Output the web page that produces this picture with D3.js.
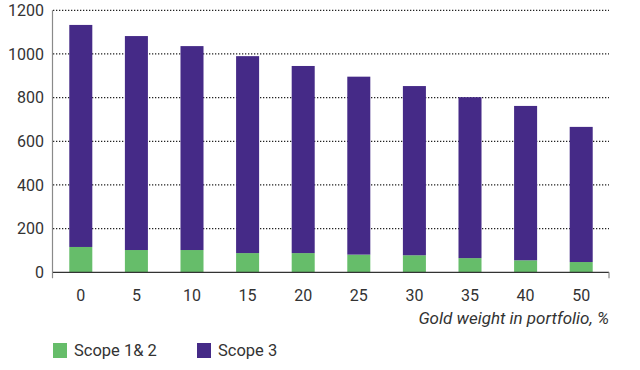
<!DOCTYPE html>
<html>
<head>
<meta charset="utf-8">
<style>
  body { margin: 0; background: #fff; }
  text { font-family: Roboto, "Liberation Sans", sans-serif; fill: #333; }
  .tick-label { font-size: 16px; }
  .axis-title { font-size: 17px; font-style: italic; }
  .legend-label { font-size: 16.5px; }
</style>
</head>
<body>
<script src="https://cdn.jsdelivr.net/npm/d3@7/dist/d3.min.js"></script>
<script>
// data
const weights = ["0", "5", "10", "15", "20", "25", "30", "35", "40", "50"];
const scope12 = [116, 102, 102, 88, 88, 81, 78, 65, 55, 47];
const scope3 = [1017, 980, 934, 902, 857, 815, 775, 737, 707, 619];
const yTicks = [0, 200, 400, 600, 800, 1000, 1200];
const seriesNames = ["Scope 1& 2", "Scope 3"];
const colors = ["#66bd6a", "#452a87"];

const W = 640, H = 370;
const margin = { top: 10.3, right: 31, bottom: 97.7, left: 53 };
const width = W - margin.left - margin.right;
const height = H - margin.top - margin.bottom;

const svg = d3.select("body").append("svg")
  .attr("width", W)
  .attr("height", H);

const g = svg.append("g")
  .attr("transform", `translate(${margin.left},${margin.top})`);

const x = d3.scaleBand().domain(weights).range([0, width]).paddingInner(0.586).paddingOuter(0.293);
const y = d3.scaleLinear().domain([0, 1200]).range([height, 0]);

// dotted gridlines
g.append("g").selectAll("line")
  .data(yTicks.filter(d => d > 0))
  .enter().append("line")
  .attr("x1", 0)
  .attr("x2", width)
  .attr("y1", d => y(d))
  .attr("y2", d => y(d))
  .attr("stroke", "#222")
  .attr("stroke-width", 1.3)
  .attr("stroke-dasharray", "1.3,1.7");

// stacked bars
const rows = weights.map((w, i) => ({ w: w, s12: scope12[i], s3: scope3[i] }));
const stack = d3.stack().keys(["s12", "s3"])(rows);

g.append("g").selectAll("g")
  .data(stack)
  .enter().append("g")
  .attr("fill", (d, i) => colors[i])
  .selectAll("rect")
  .data(d => d)
  .enter().append("rect")
  .attr("x", d => x(d.data.w))
  .attr("y", d => y(d[1]))
  .attr("width", x.bandwidth())
  .attr("height", d => y(d[0]) - y(d[1]));

// y axis line
g.append("line")
  .attr("x1", -0.5).attr("x2", -0.5)
  .attr("y1", 0).attr("y2", height + 6)
  .attr("stroke", "#8a8a8a")
  .attr("stroke-width", 1.2);

// baseline + right end tick
g.append("line")
  .attr("x1", 0).attr("x2", width)
  .attr("y1", height).attr("y2", height)
  .attr("stroke", "#333")
  .attr("stroke-width", 1.2);
g.append("line")
  .attr("x1", width).attr("x2", width)
  .attr("y1", height).attr("y2", height + 6)
  .attr("stroke", "#8a8a8a")
  .attr("stroke-width", 1.2);

// y tick labels
g.append("g").selectAll("text")
  .data(yTicks)
  .enter().append("text")
  .attr("class", "tick-label")
  .attr("x", -9)
  .attr("y", d => y(d))
  .attr("dy", "0.35em")
  .attr("text-anchor", "end")
  .text(d => d);

// x tick labels
g.append("g").selectAll("text")
  .data(weights)
  .enter().append("text")
  .attr("class", "tick-label")
  .attr("x", d => x(d) + x.bandwidth() / 2)
  .attr("y", height + 23)
  .attr("dy", "0.35em")
  .attr("text-anchor", "middle")
  .text(d => d);

// x axis title
g.append("text")
  .attr("class", "axis-title")
  .attr("x", width)
  .attr("y", height + 46)
  .attr("dy", "0.35em")
  .attr("text-anchor", "end")
  .text("Gold weight in portfolio, %");

// legend
const legendX = [53, 197];
const legend = svg.append("g").selectAll("g")
  .data(seriesNames)
  .enter().append("g")
  .attr("transform", (d, i) => `translate(${legendX[i]},343)`);

legend.append("rect")
  .attr("width", 14)
  .attr("height", 15)
  .attr("fill", (d, i) => colors[i]);

legend.append("text")
  .attr("class", "legend-label")
  .attr("x", 21)
  .attr("y", 7.5)
  .attr("dy", "0.35em")
  .text(d => d);
</script>
</body>
</html>
